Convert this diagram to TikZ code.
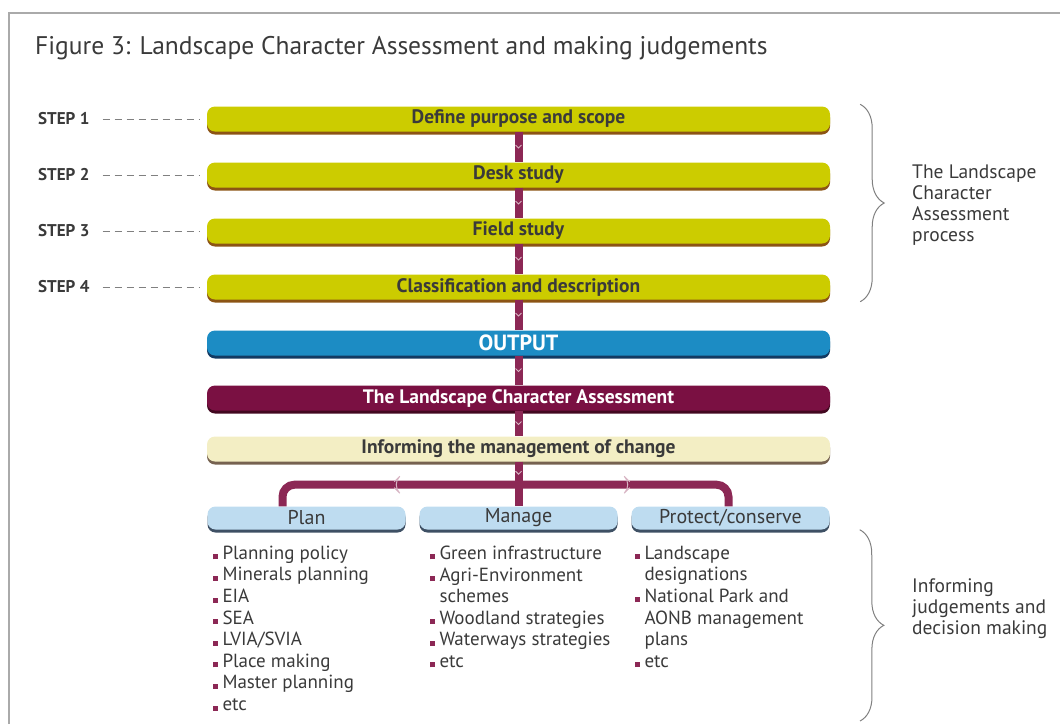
\documentclass[tikz,border=0pt]{standalone}
\usepackage{fontspec}
\setmainfont{PT Sans}
\usetikzlibrary{positioning,calc,shadows,decorations.pathreplacing,decorations.markings}

\definecolor{baryellow}{RGB}{204,204,0}
\definecolor{yellowshade}{RGB}{140,84,20}
\definecolor{outblue}{RGB}{28,140,196}
\definecolor{outshade}{RGB}{18,58,98}
\definecolor{lcamaroon}{RGB}{122,16,66}
\definecolor{lcashade}{RGB}{66,8,32}
\definecolor{paleyellow}{RGB}{243,238,196}
\definecolor{paleshade}{RGB}{118,98,80}
\definecolor{subblue}{RGB}{190,220,240}
\definecolor{subshade}{RGB}{62,80,100}
\definecolor{pipecol}{RGB}{140,40,85}
\definecolor{textgray}{RGB}{58,58,58}
\definecolor{framegray}{RGB}{170,170,170}

\newcommand{\blt}{\textcolor{pipecol}{\rule{5pt}{5pt}}\hspace{5pt}}

\tikzset{
  barbox/.style 2 args={rounded corners=8pt, minimum width=623pt, minimum height=25pt,
    inner sep=0pt, fill=#1, drop shadow={shadow xshift=0pt, shadow yshift=-3pt, opacity=1, fill=#2},
    font=\bfseries\fontsize{19.5}{21}\selectfont, text=textgray},
  subbox/.style={rounded corners=8pt, minimum width=198pt, minimum height=23pt, inner sep=0pt,
    fill=subblue, drop shadow={shadow xshift=0pt, shadow yshift=-3pt, opacity=1, fill=subshade},
    font=\fontsize{20}{22}\selectfont, text=textgray},
  steplabel/.style={font=\bfseries\fontsize{17}{19}\selectfont, text=textgray, anchor=west, inner sep=0pt},
  leader/.style={draw=gray, line width=0.8pt, dash pattern=on 7pt off 5pt},
  pipeplain/.style={draw=pipecol, line width=8pt},
  pipe/.style={pipeplain, postaction={decorate, decoration={markings,
    mark=at position 0.5 with {\draw[line width=1pt, draw=pipecol!35!white] (-2pt,-3pt) -- (1pt,0pt) -- (-2pt,3pt);}}}},
  listtext/.style={align=left, anchor=north west, inner sep=0pt, font=\fontsize{19}{21.6}\selectfont, text=textgray},
  bracetext/.style={align=left, anchor=west, inner sep=0pt, font=\fontsize{19.5}{21}\selectfont, text=textgray},
  bracket/.style={draw=gray, line width=1pt, decorate, decoration={brace, amplitude=24pt}}
}

\begin{document}
\begin{tikzpicture}[x=1pt, y=-1pt, node distance=56pt]
\useasboundingbox (0,0) rectangle (1060,724);
\draw[framegray, line width=1.5pt] (9,724) -- (9,13) -- (1060,13);

\node[anchor=west, inner sep=0pt, font=\fontsize{25.5}{28}\selectfont, text=textgray] (title) at (35,48)
  {Figure 3: Landscape Character Assessment and making judgements};

% process steps
\node[barbox={baryellow}{yellowshade}] (s1) at (518.5,119) {Define purpose and scope};
\node[barbox={baryellow}{yellowshade}] (s2)[below of = s1] {Desk study};
\node[barbox={baryellow}{yellowshade}] (s3)[below of = s2] {Field study};
\node[barbox={baryellow}{yellowshade}] (s4)[below of = s3] {Classification and description};
\node[barbox={outblue}{outshade}, text=white, font=\bfseries\fontsize{22}{22}\selectfont] (out)[below of = s4] {OUTPUT};
\node[barbox={lcamaroon}{lcashade}, text=white] (lca)[below of = out, node distance=55pt] {The Landscape Character Assessment};
\node[barbox={paleyellow}{paleshade}] (inform)[below of = lca, node distance=51pt] {Informing the management of change};

\node[steplabel] (l1) at (38,0 |- s1) {STEP 1};
\node[steplabel] (l2) at (38,0 |- s2) {STEP 2};
\node[steplabel] (l3) at (38,0 |- s3) {STEP 3};
\node[steplabel] (l4) at (38,0 |- s4) {STEP 4};

\foreach \n in {1,...,4}
  \draw[leader] ($(l\n.east)+(13,0)$) -- ($(s\n.west)+(-8,0)$);

\path
  (s1) edge[pipe] (s2)
  (s2) edge[pipe] (s3)
  (s3) edge[pipe] (s4)
  (s4) edge[pipe] (out)
  (out) edge[pipe] (lca)
  (lca) edge[pipe] (inform)
;

% branches
\node[subbox] (manage)[below of = inform, node distance=69pt] {Manage};
\node[subbox] (plan)[left of = manage, node distance=212pt] {Plan};
\node[subbox] (protect)[right of = manage, node distance=212pt] {Protect/conserve};

\coordinate (hub) at ($(inform.south)+(0,23)$);
\draw[pipe] (inform.south) -- (hub);
\draw[pipeplain] (hub) -- (manage.north);
\draw[pipe, rounded corners=12pt] (hub) -| ($(plan.north)+(-24,0)$);
\draw[pipe, rounded corners=12pt] (hub) -| ($(protect.north)+(-2,0)$);

\node[listtext] (planlist) at ($(plan.south west)+(5,16)$)
  {\blt Planning policy\\ \blt Minerals planning\\ \blt EIA\\ \blt SEA\\ \blt LVIA/SVIA\\
   \blt Place making\\ \blt Master planning\\ \blt etc};
\node[listtext] (managelist) at ($(manage.south west)+(10,16)$)
  {\blt Green infrastructure\\ \blt Agri-Environment\\ \hspace*{10pt}schemes\\
   \blt Woodland strategies\\ \blt Waterways strategies\\ \blt etc};
\node[listtext] (protectlist) at ($(protect.south west)+(3,16)$)
  {\blt Landscape\\ \hspace*{10pt}designations\\ \blt National Park and\\
   \hspace*{10pt}AONB management\\ \hspace*{10pt}plans\\ \blt etc};

% braces
\draw[bracket] ($(s1.north east)+(30,-2)$) -- ($(s4.south east)+(30,2)$);
\node[bracetext] (proc) at (912,205) {The Landscape\\Character\\Assessment\\process};
\draw[bracket] ($(protect.south east)+(30,0)$) -- (860,721);
\node[bracetext] (judge) at (912,609) {Informing\\judgements and\\decision making};
\end{tikzpicture}
\end{document}
